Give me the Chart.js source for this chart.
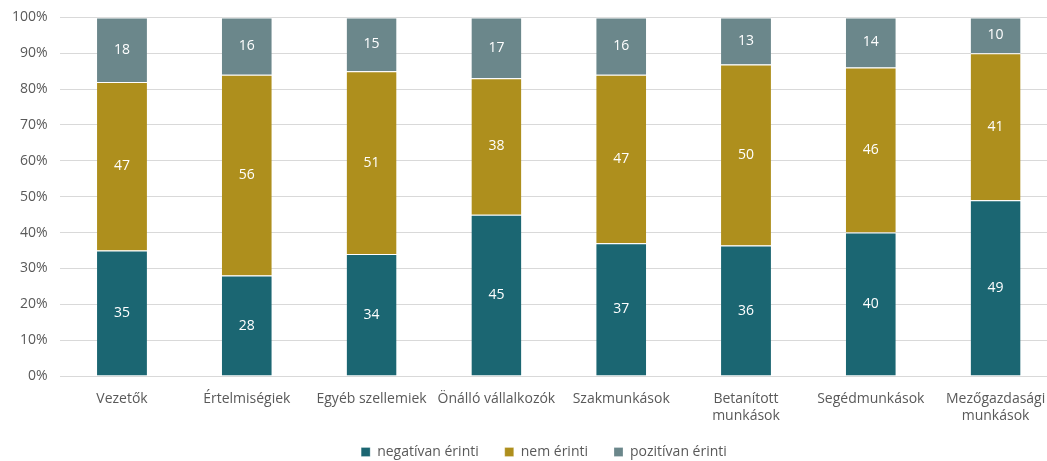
<!DOCTYPE html>
<html>
<head>
<meta charset="utf-8">
<script src="https://cdn.jsdelivr.net/npm/chart.js@4"></script>
<style>
  html, body { margin: 0; padding: 0; background: #fff; overflow: hidden; }
  #outer { width: 1047px; height: 461px; overflow: hidden; }
  #wrap { width: 1058px; height: 464px; margin-top: -3px; position: relative; }
</style>
</head>
<body>
<div id="outer"><div id="wrap"><canvas id="chart"></canvas></div></div>
<script>
const categories = ['Vezetők', 'Értelmiségiek', 'Egyéb szellemiek', 'Önálló vállalkozók', 'Szakmunkások', ['Betanított', 'munkások'], 'Segédmunkások', ['Mezőgazdasági', 'munkások']];
const negativan = [35, 28, 34, 45, 37, 36, 40, 49];
const nemErinti = [47, 56, 51, 38, 47, 50, 46, 41];
const pozitivan = [18, 16, 15, 17, 16, 13, 14, 10];
const seriesNames = ['negatívan érinti', 'nem érinti', 'pozitívan érinti'];
const colors = ['#1b6672', '#ae8f1d', '#6b878b'];

// 100%-os halmozás: minden oszlop összegére vetítve
const totals = categories.map((c, i) => negativan[i] + nemErinti[i] + pozitivan[i]);
const raw = [negativan, nemErinti, pozitivan];

const datasets = raw.map((vals, k) => ({
    label: seriesNames[k],
    data: vals.map((v, i) => v / totals[i] * 100),
    raw: vals,
    backgroundColor: colors[k],
    borderColor: '#ffffff',
    borderWidth: { top: 1, bottom: 0, left: 0, right: 0 },
    borderSkipped: false,
    barPercentage: 0.4,
    categoryPercentage: 1.0
}));

const labelPlugin = {
    id: 'segLabels',
    afterLayout(chart) {
        // jelmagyarázat helye, mint az eredetin
        chart.legend.left += 15;
        chart.legend.right += 15;
        chart.legend.top -= 13;
        chart.legend.bottom -= 13;
    },
    afterDatasetsDraw(chart) {
        const ctx = chart.ctx;
        ctx.save();
        ctx.fillStyle = '#ffffff';
        ctx.font = '14px "Open Sans"';
        ctx.textAlign = 'center';
        ctx.textBaseline = 'middle';
        chart.data.datasets.forEach((ds, di) => {
            chart.getDatasetMeta(di).data.forEach((bar, i) => {
                const y = (bar.y + bar.base) / 2;
                ctx.fillText(ds.raw[i], bar.x, y);
            });
        });
        ctx.restore();
    }
};

new Chart(document.getElementById('chart'), {
    type: 'bar',
    data: { labels: categories, datasets: datasets },
    options: {
        responsive: true,
        maintainAspectRatio: false,
        animation: false,
        layout: { padding: { left: 0, right: 0, top: 0, bottom: -21 } },
        scales: {
            x: {
                stacked: true,
                grid: { display: false },
                border: { display: false },
                ticks: { color: '#595959', font: { family: 'Open Sans', size: 14, lineHeight: 1.25 }, maxRotation: 0, autoSkip: false, padding: 6 },
                afterFit: s => { s.height = 56; }
            },
            y: {
                stacked: true,
                min: 0,
                max: 100,
                ticks: { stepSize: 10, color: '#595959', font: { family: 'Open Sans', size: 14 }, padding: 12, callback: v => v + '%' },
                grid: { color: '#d9d9d9', lineWidth: 1, drawTicks: false },
                border: { display: false }
            }
        },
        plugins: {
            legend: {
                position: 'bottom',
                labels: { boxWidth: 9, boxHeight: 9, color: '#595959', font: { family: 'Open Sans', size: 14 }, padding: 26 }
            },
            tooltip: { enabled: false }
        }
    },
    plugins: [labelPlugin]
});
</script>
</body>
</html>
